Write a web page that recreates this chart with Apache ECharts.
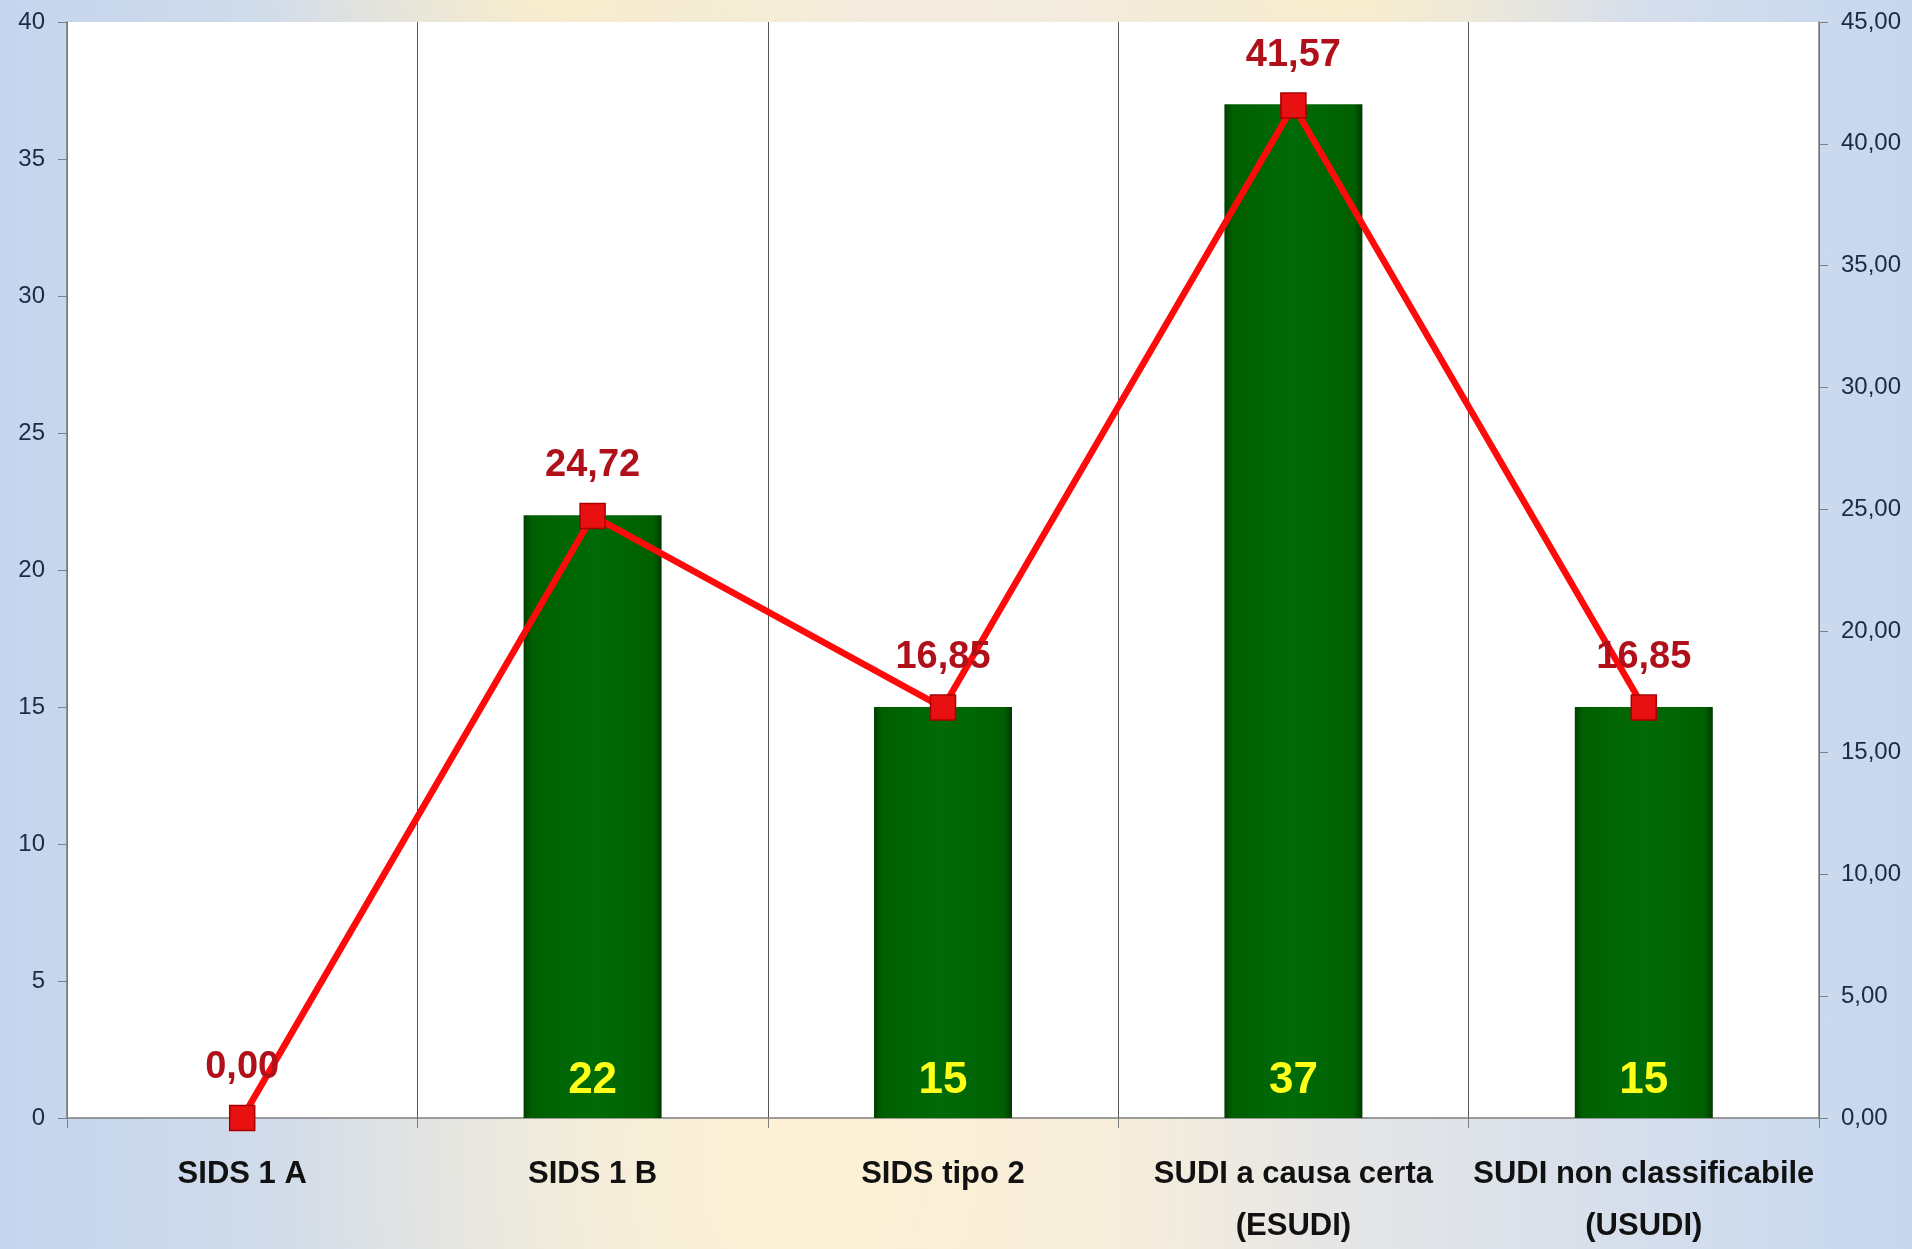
<!DOCTYPE html>
<html>
<head>
<meta charset="utf-8">
<script src="https://cdn.jsdelivr.net/npm/echarts@6/dist/echarts.min.js"></script>
<style>
html,body{margin:0;padding:0;}
#chart{width:1912px;height:1249px;
background:
 radial-gradient(ellipse 520px 700px at 800px 1150px, rgba(253,241,212,1), rgba(253,241,212,0)),
 radial-gradient(ellipse 300px 120px at 560px 0px, rgba(252,238,200,0.9), rgba(252,238,200,0)),
 radial-gradient(ellipse 300px 120px at 1340px 0px, rgba(252,238,200,0.9), rgba(252,238,200,0)),
 linear-gradient(90deg, #c4d5ee 0%, #d8dfe8 22%, #f4ecdc 40%, #f2ebe0 58%, #dde2ea 78%, #c6d7ef 100%);
}
</style>
</head>
<body>
<div id="chart"></div>
<script>
var categories = ['SIDS 1 A', 'SIDS 1 B', 'SIDS tipo 2', 'SUDI a causa certa\n(ESUDI)', 'SUDI non classificabile\n(USUDI)'];
var barValues = [0, 22, 15, 37, 15];
var lineValues = [0.00, 24.72, 16.85, 41.57, 16.85];
var leftTicks = {min: 0, max: 40, interval: 5};
var rightTicks = {min: 0, max: 45, interval: 5};

var FONT = '"Liberation Sans", Arial, sans-serif';
var chart = echarts.init(document.getElementById('chart'), null, {renderer: 'canvas'});
chart.setOption({
  backgroundColor: 'transparent',
  animation: false,
  grid: {left: 67, right: 93, top: 22, bottom: 131, show: true, backgroundColor: '#ffffff', borderWidth: 0,
    containLabel: false, outerBoundsMode: 'none'},
  xAxis: {
    type: 'category',
    data: categories,
    axisLine: {show: true, lineStyle: {color: '#7f7f7f', width: 1.5}},
    axisTick: {show: true, alignWithLabel: false, length: 10, lineStyle: {color: '#7f7f7f'}},
    splitLine: {show: true, lineStyle: {color: '#555555', width: 1}},
    axisLabel: {
      interval: 0, margin: 30, fontFamily: FONT, fontWeight: 'bold', fontSize: 31,
      color: '#111111', lineHeight: 52
    }
  },
  yAxis: [
    {
      type: 'value', position: 'left', min: leftTicks.min, max: leftTicks.max, interval: leftTicks.interval,
      axisLine: {show: true, lineStyle: {color: '#7f7f7f', width: 1.5}},
      axisTick: {show: true, length: 9, lineStyle: {color: '#7f7f7f'}},
      splitLine: {show: false},
      axisLabel: {margin: 22, fontFamily: FONT, fontSize: 24, color: '#1c2a44'}
    },
    {
      type: 'value', position: 'right', min: rightTicks.min, max: rightTicks.max, interval: rightTicks.interval,
      axisLine: {show: true, lineStyle: {color: '#7f7f7f', width: 1.5}},
      axisTick: {show: true, length: 9, lineStyle: {color: '#7f7f7f'}},
      splitLine: {show: false},
      axisLabel: {margin: 22, fontFamily: FONT, fontSize: 24, color: '#1c2a44',
        formatter: function (v) { return v.toFixed(2).replace('.', ','); }}
    }
  ],
  series: [
    {
      type: 'bar', yAxisIndex: 0, data: barValues, barWidth: 138,
      itemStyle: {
        color: new echarts.graphic.LinearGradient(0, 0, 1, 0, [
          {offset: 0, color: '#003f00'},
          {offset: 0.06, color: '#005f00'},
          {offset: 0.5, color: '#006b08'},
          {offset: 0.94, color: '#005f00'},
          {offset: 1, color: '#003a00'}
        ]),
        borderWidth: 0
      },
      label: {
        show: true, position: 'insideBottom', distance: 15,
        fontFamily: FONT, fontWeight: 'bold', fontSize: 44, color: '#ffff1a',
        formatter: function (p) { return p.value ? String(p.value) : ''; }
      },
      z: 2
    },
    {
      type: 'line', yAxisIndex: 1, data: lineValues,
      lineStyle: {color: '#ff0a0a', width: 6.5},
      symbol: 'rect', symbolSize: 25,
      itemStyle: {color: '#e81010', borderColor: '#a80000', borderWidth: 1.5},
      label: {
        show: true, position: 'top', distance: 18,
        fontFamily: FONT, fontWeight: 'bold', fontSize: 38, color: '#b0101a',
        formatter: function (p) { return p.value.toFixed(2).replace('.', ','); }
      },
      z: 5
    }
  ]
});
</script>
</body>
</html>
